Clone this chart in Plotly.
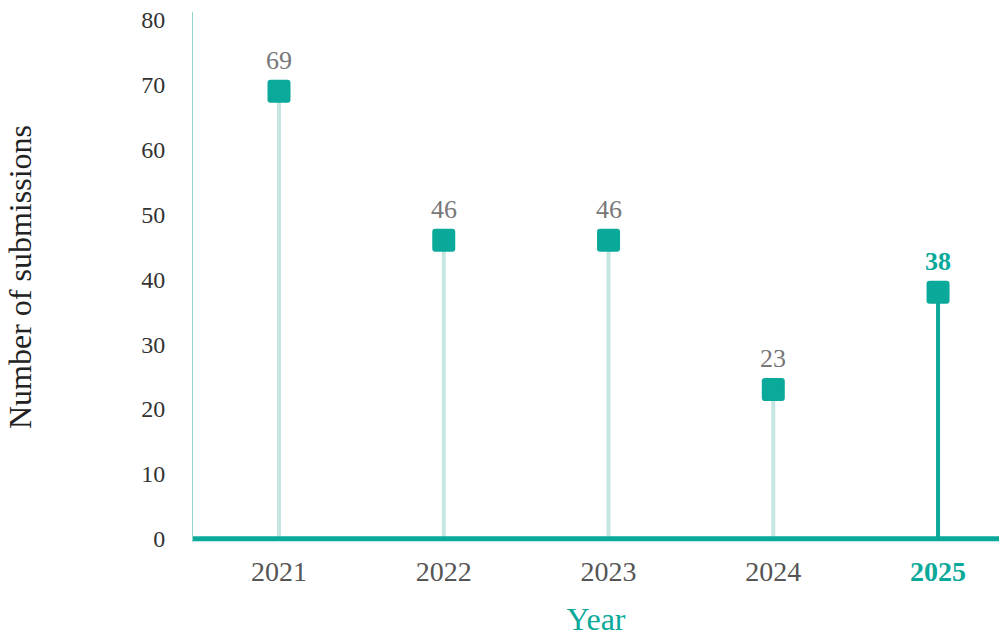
import plotly.graph_objects as go

years = ["2021", "2022", "2023", "2024", "2025"]
submissions = [69, 46, 46, 23, 38]
y_ticks = [0, 10, 20, 30, 40, 50, 60, 70, 80]

TEAL = "#0aa99a"
PALE = "#c5e6e2"
GREY_LABEL = "#777777"
GREY_TICK = "#555555"
FONT = "Liberation Serif"

x_pos = list(range(len(years)))
last = len(years) - 1

fig = go.Figure()

# stems from the baseline up to each value
for i, v in zip(x_pos, submissions):
    fig.add_trace(go.Scatter(
        x=[i, i], y=[0, v], mode="lines",
        line=dict(color=TEAL if i == last else PALE, width=4),
        hoverinfo="skip", showlegend=False,
    ))

# rounded-square heads
fig.add_trace(go.Scatter(
    x=x_pos, y=submissions, mode="markers",
    marker=dict(symbol="square", size=17, color=TEAL,
                line=dict(color=TEAL, width=6)),
    showlegend=False, hoverinfo="skip",
))

# value labels above the heads
for i, v in zip(x_pos, submissions):
    highlight = i == last
    fig.add_annotation(
        x=i, y=v, text=f"<b>{v}</b>" if highlight else str(v),
        showarrow=False, yshift=31,
        font=dict(family=FONT, size=26, color=TEAL if highlight else GREY_LABEL),
    )

tick_text = [
    f"<b><span style='color:{TEAL}'>{y}</span></b>" if i == last else y
    for i, y in enumerate(years)
]

fig.update_layout(
    width=999, height=637,
    margin=dict(l=193, r=0, t=12, b=95),
    plot_bgcolor="white", paper_bgcolor="white",
    font=dict(family=FONT),
    xaxis=dict(
        range=[-0.522, 4.37],
        tickvals=x_pos, ticktext=tick_text,
        tickfont=dict(family=FONT, size=28, color=GREY_TICK),
        showgrid=False, zeroline=False, showline=False,
        ticks="", ticklabelstandoff=10,
        title=dict(text="Year", font=dict(family=FONT, size=32, color=TEAL),
                   standoff=21),
        fixedrange=True,
    ),
    yaxis=dict(
        range=[-0.5, 81.2],
        tickvals=y_ticks,
        tickfont=dict(family=FONT, size=24, color="#333333"),
        showgrid=False, zeroline=False,
        showline=True, linecolor="#8fd6cb", linewidth=1,
        ticks="", ticklabelstandoff=22,
        title=dict(text="Number of submissions",
                   font=dict(family=FONT, size=32, color="#222222"),
                   standoff=100),
        fixedrange=True,
    ),
)

# teal baseline along zero
fig.add_shape(type="line", xref="paper", yref="y", x0=0, x1=1, y0=0, y1=0,
              line=dict(color=TEAL, width=5), layer="above")

fig.write_html(
    "out.html",
    config={"displayModeBar": False},
    post_script="document.querySelectorAll('.scatterlayer .point').forEach(function(p){p.style.strokeLinejoin='round';});",
)
